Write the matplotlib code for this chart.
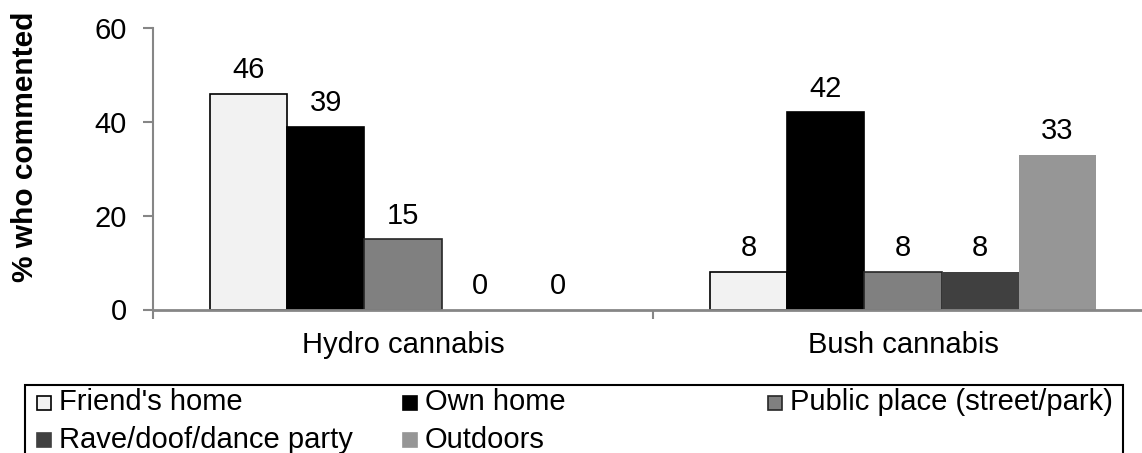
import matplotlib
matplotlib.use("Agg")
import matplotlib.pyplot as plt
from matplotlib.patches import Rectangle
import numpy as np

plt.rcParams["font.family"] = ["Liberation Sans", "DejaVu Sans"]

# Data
categories = ["Hydro cannabis", "Bush cannabis"]
series_names = ["Friend's home", "Own home", "Public place (street/park)",
                "Rave/doof/dance party", "Outdoors"]
friends_home = [46, 8]
own_home = [39, 42]
public_place = [15, 8]
rave_party = [0, 8]
outdoors = [0, 33]
series_values = [friends_home, own_home, public_place, rave_party, outdoors]
y_ticks = [0, 20, 40, 60]

# Styling
fill_colors = ["#F2F2F2", "#000000", "#808080", "#404040", "#969696"]
edge_colors = ["#000000", "#000000", "#262626", "none", "none"]
axis_gray = "#868686"
FS = 21

W, H = 1142, 453
fig = plt.figure(figsize=(W / 100, H / 100), dpi=100)

def px_to_fig(x, y):
    return x / W, 1 - y / H

ax_left, ax_top, ax_right, ax_bottom = 153, 28, 1153, 309.5
ax = fig.add_axes([ax_left / W, 1 - ax_bottom / H,
                   (ax_right - ax_left) / W, (ax_bottom - ax_top) / H])
ax.set_xlim(-0.5, 1.5)
ax.set_ylim(0, 60)

x = np.arange(len(categories))
bar_w = 0.1546
n = len(series_values)
for j, vals in enumerate(series_values):
    pos = x + (j - (n - 1) / 2) * bar_w
    ax.bar(pos, vals, width=bar_w, color=fill_colors[j],
           edgecolor=edge_colors[j], linewidth=1.2, zorder=2)
    for xi, v in zip(pos, vals):
        ax.annotate(f"{v}", xy=(xi, v), xytext=(0, 17), textcoords="offset points",
                    ha="center", va="center", fontsize=FS, color="black")

# Axes styling
for side in ("top", "right"):
    ax.spines[side].set_visible(False)
ax.spines["left"].set_color(axis_gray)
ax.spines["left"].set_linewidth(1.5)
ax.spines["bottom"].set_color(axis_gray)
ax.spines["bottom"].set_linewidth(2)
ax.spines["bottom"].set_zorder(3)

ax.set_yticks(y_ticks)
ax.set_yticklabels([str(t) for t in y_ticks])
ax.tick_params(axis="y", direction="out", length=7, width=1.5, color=axis_gray,
               labelsize=FS, pad=12)

ax.set_xticks(x)
ax.set_xticklabels(categories)
ax.set_xticks([-0.5, 0.5, 1.5], minor=True)
ax.tick_params(axis="x", which="major", length=0, labelsize=FS, pad=15.5)
ax.tick_params(axis="x", which="minor", direction="out", length=6.5, width=1.5,
               color=axis_gray)

ax.set_ylabel("% who commented", fontsize=21.5, fontweight="bold",
              ha="center", va="center")
ax.yaxis.set_label_coords((25 - ax_left) / (ax_right - ax_left),
                          (ax_bottom - 147) / (ax_bottom - ax_top))

# Legend box with three equal columns
lx0, ly0 = px_to_fig(25, 385)
lx1, ly1 = px_to_fig(1123, 470)
fig.patches.append(Rectangle((lx0, ly1), lx1 - lx0, ly0 - ly1, transform=fig.transFigure,
                             fill=False, edgecolor="black", linewidth=1.5))
col_x = [37, 403, 768]
row_y = [402.5, 439.5]
sq = 14
for j, name in enumerate(series_names):
    r, c = divmod(j, 3)
    mx, my = col_x[c], row_y[r]
    fx, fy = px_to_fig(mx, my + sq / 2)
    fig.patches.append(Rectangle((fx, fy), sq / W, sq / H, transform=fig.transFigure,
                                 facecolor=fill_colors[j],
                                 edgecolor=edge_colors[j] if edge_colors[j] != "none" else fill_colors[j],
                                 linewidth=1.2))
    tx, ty = px_to_fig(mx + sq + 8, my)
    fig.text(tx, ty, name, ha="left", va="center", fontsize=FS, color="black")

fig.savefig("out.png", dpi=100)
